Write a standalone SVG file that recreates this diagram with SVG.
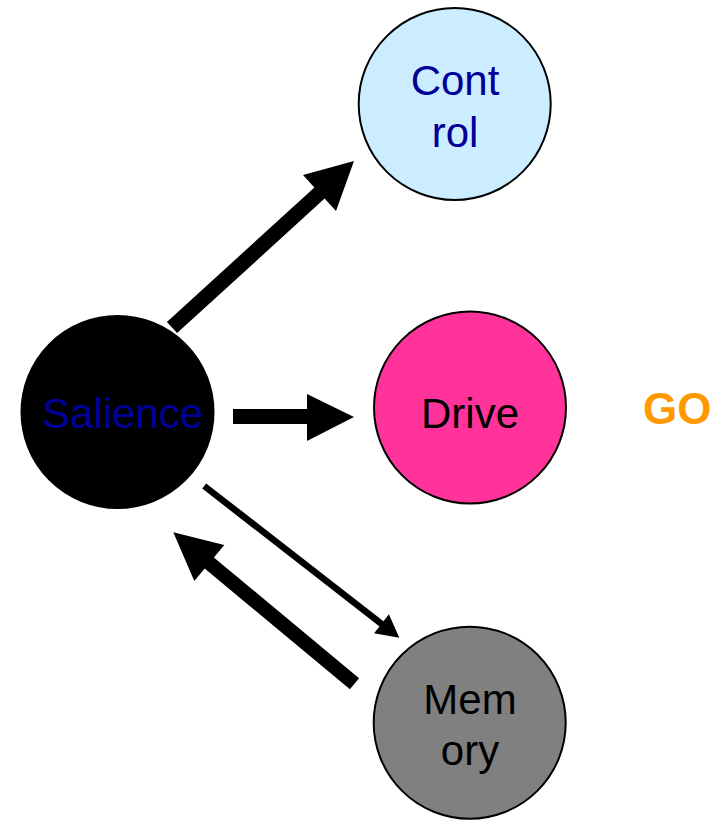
<svg xmlns="http://www.w3.org/2000/svg" width="717" height="820" viewBox="0 0 717 820">
<style>
.node{stroke:#000;stroke-width:2}
.lbl{font-family:"Liberation Sans",Arial,sans-serif;font-size:42px;text-anchor:middle}
.blue{fill:#000099}
.dark{fill:#000}
.arrow{fill:#000;stroke:none}
</style>
<rect width="717" height="820" fill="#fff"/>
<g id="connectors">
<polygon class="arrow" points="166.9,322 314.4,187.5 303,174.9 354,161 336,211.1 324.6,198.6 177.1,333.1"/>
<polygon class="arrow" points="233,409 307,409 307,394 354,417 307,441 307,424 233,424"/>
<polygon class="arrow" points="202.2,488.6 379.5,626.4 374.1,633.3 399.3,637.7 388.9,614.3 383.5,621.2 206.2,483.4"/>
<polygon class="arrow" points="359.1,678.3 213.9,557.5 224.3,545.1 173.3,532.3 194.3,580.9 204.7,568.5 349.9,689.3"/>
</g>
<g id="salience">
<circle class="node" cx="117.5" cy="412" r="96" fill="#000"/>
<text class="lbl blue" x="122.5" y="428">Salience</text>
</g>
<g id="control">
<circle class="node" cx="454.7" cy="104" r="96" fill="#CCECFF"/>
<text class="lbl blue" x="455" y="95">Cont</text>
<text class="lbl blue" x="455" y="147">rol</text>
</g>
<g id="drive">
<circle class="node" cx="470" cy="407.5" r="96" fill="#FF3399"/>
<text class="lbl dark" x="470" y="428">Drive</text>
</g>
<g id="memory">
<circle class="node" cx="469.7" cy="722.7" r="96" fill="#808080"/>
<text class="lbl dark" x="470" y="713.5">Mem</text>
<text class="lbl dark" x="470" y="765">ory</text>
</g>
<g id="go">
<text x="643" y="424" style="font-family:'Liberation Sans',Arial,sans-serif;font-size:44px;font-weight:bold;fill:#FF9900">GO</text>
</g>
</svg>
